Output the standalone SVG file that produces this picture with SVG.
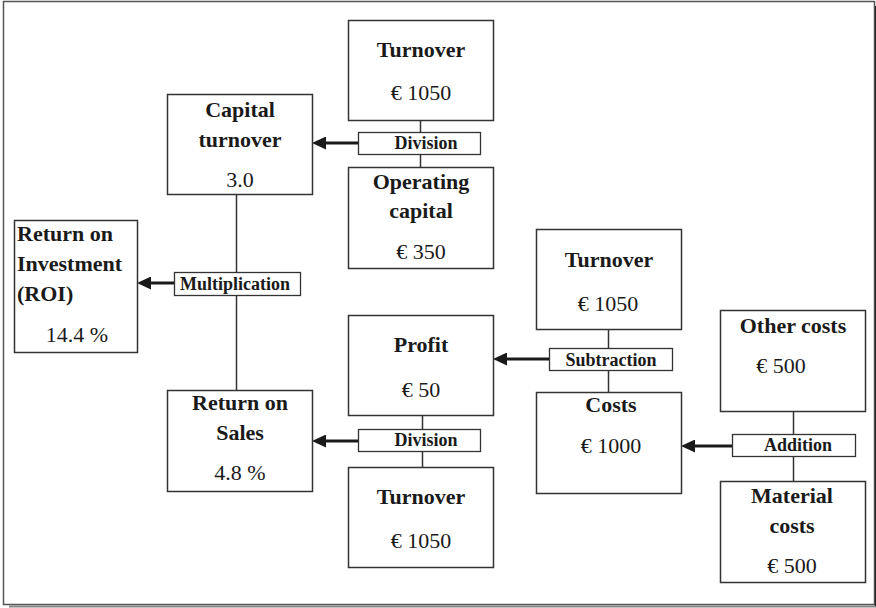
<svg xmlns="http://www.w3.org/2000/svg" width="876" height="608" viewBox="0 0 876 608">
  <style>
    .frame { fill: #ffffff; stroke: #555555; stroke-width: 1.5; }
    .box { fill: #ffffff; stroke: #333333; stroke-width: 1.5; }
    .op { fill: #ffffff; stroke: #333333; stroke-width: 1.3; }
    .link { stroke: #333333; stroke-width: 1.5; fill: none; }
    .arrow { stroke: #1a1a1a; stroke-width: 3; fill: none; marker-end: url(#head); }
    text { font-family: "Liberation Serif", "Times New Roman", serif; fill: #1a1a1a; }
    .t { font-size: 22px; font-weight: bold; text-anchor: middle; }
    .tl { font-size: 22px; font-weight: bold; }
    .v { font-size: 22px; text-anchor: middle; }
    .o { font-size: 18px; font-weight: bold; text-anchor: middle; }
  </style>
  <defs>
    <marker id="head" viewBox="0 0 14 13" refX="2" refY="6.5" markerWidth="14" markerHeight="13" markerUnits="userSpaceOnUse" orient="auto">
      <path d="M0,0 L14,6.5 L0,13 z" fill="#1a1a1a"/>
    </marker>
  </defs>

  <!-- page frame with drop shadow -->
  <line x1="9" y1="606.5" x2="876" y2="606.5" stroke="#888888" stroke-width="2"/>
  <line x1="875.5" y1="6" x2="875.5" y2="606" stroke="#111111" stroke-width="1.5"/>
  <rect class="frame" x="3.5" y="1.5" width="871" height="603"/>

  <!-- connectors: vertical links and arrows -->
  <g id="connectors">
    <line class="link" x1="420.5" y1="120" x2="420.5" y2="167"/>
    <line class="link" x1="236.5" y1="194" x2="236.5" y2="390"/>
    <line class="link" x1="422.5" y1="415" x2="422.5" y2="467"/>
    <line class="link" x1="608.5" y1="329" x2="608.5" y2="392"/>
    <line class="link" x1="793.5" y1="411" x2="793.5" y2="481"/>
    <line class="arrow" x1="358" y1="143" x2="324" y2="143"/>
    <line class="arrow" x1="174" y1="283" x2="149" y2="283"/>
    <line class="arrow" x1="549" y1="359" x2="505" y2="359"/>
    <line class="arrow" x1="358" y1="441" x2="324" y2="441"/>
    <line class="arrow" x1="732" y1="446" x2="693" y2="446"/>
  </g>

  <!-- operator labels -->
  <g id="op-division-1">
    <rect class="op" x="358.5" y="132.5" width="122" height="22"/>
    <text class="o" x="426" y="149">Division</text>
  </g>
  <g id="op-multiplication">
    <rect class="op" x="174.5" y="272.5" width="126" height="23"/>
    <text class="o" x="235" y="290">Multiplication</text>
  </g>
  <g id="op-subtraction">
    <rect class="op" x="549.5" y="348.5" width="123" height="22"/>
    <text class="o" x="611" y="366">Subtraction</text>
  </g>
  <g id="op-division-2">
    <rect class="op" x="358.5" y="429.5" width="122" height="22"/>
    <text class="o" x="426" y="446">Division</text>
  </g>
  <g id="op-addition">
    <rect class="op" x="732.5" y="434.5" width="123" height="22"/>
    <text class="o" x="798" y="451">Addition</text>
  </g>

  <!-- figures -->
  <g id="turnover-top">
    <rect class="box" x="348.5" y="20.5" width="145" height="100"/>
    <text class="t" x="421" y="57">Turnover</text>
    <text class="v" x="421" y="100">€ 1050</text>
  </g>
  <g id="capital-turnover">
    <rect class="box" x="167.5" y="94.5" width="145" height="100"/>
    <text class="t" x="240" y="117">Capital</text>
    <text class="t" x="240" y="147">turnover</text>
    <text class="v" x="240" y="187">3.0</text>
  </g>
  <g id="operating-capital">
    <rect class="box" x="348.5" y="167.5" width="145" height="101"/>
    <text class="t" x="421" y="189">Operating</text>
    <text class="t" x="421" y="218">capital</text>
    <text class="v" x="421" y="259">€ 350</text>
  </g>
  <g id="roi">
    <rect class="box" x="14.5" y="220.5" width="123" height="132"/>
    <text class="tl" x="17" y="241">Return on</text>
    <text class="tl" x="17" y="271">Investment</text>
    <text class="tl" x="17" y="301">(ROI)</text>
    <text class="v" x="77" y="342">14.4 %</text>
  </g>
  <g id="turnover-mid">
    <rect class="box" x="536.5" y="229.5" width="145" height="100"/>
    <text class="t" x="609" y="267">Turnover</text>
    <text class="v" x="608" y="311">€ 1050</text>
  </g>
  <g id="profit">
    <rect class="box" x="348.5" y="315.5" width="145" height="100"/>
    <text class="t" x="421" y="352">Profit</text>
    <text class="v" x="421" y="397">€ 50</text>
  </g>
  <g id="other-costs">
    <rect class="box" x="720.5" y="310.5" width="145" height="101"/>
    <text class="t" x="793" y="333">Other costs</text>
    <text class="v" x="781" y="373">€ 500</text>
  </g>
  <g id="return-on-sales">
    <rect class="box" x="167.5" y="390.5" width="145" height="101"/>
    <text class="t" x="240" y="410">Return on</text>
    <text class="t" x="240" y="440">Sales</text>
    <text class="v" x="240" y="480">4.8 %</text>
  </g>
  <g id="costs">
    <rect class="box" x="536.5" y="392.5" width="145" height="101"/>
    <text class="t" x="611" y="412">Costs</text>
    <text class="v" x="611" y="453">€ 1000</text>
  </g>
  <g id="turnover-bottom">
    <rect class="box" x="348.5" y="467.5" width="145" height="100"/>
    <text class="t" x="421" y="504">Turnover</text>
    <text class="v" x="421" y="548">€ 1050</text>
  </g>
  <g id="material-costs">
    <rect class="box" x="720.5" y="481.5" width="145" height="101"/>
    <text class="t" x="792" y="503">Material</text>
    <text class="t" x="792" y="533">costs</text>
    <text class="v" x="792" y="573">€ 500</text>
  </g>
</svg>
